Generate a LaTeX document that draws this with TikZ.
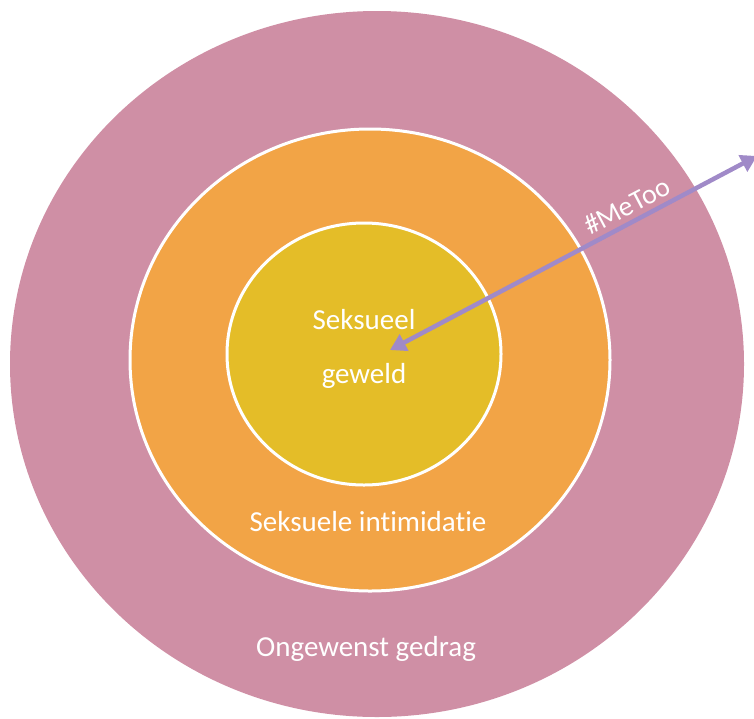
\documentclass[tikz,border=0pt]{standalone}
\usepackage{fontspec}
\setmainfont[Ligatures={NoCommon}]{Carlito}
\usetikzlibrary{arrows.meta}
\definecolor{pinkc}{HTML}{CF8FA5}
\definecolor{orangec}{HTML}{F2A446}
\definecolor{yellowc}{HTML}{E4BD28}
\definecolor{purplec}{HTML}{A08AC8}
\tikzset{
  lbl/.style={text=white, font=\fontsize{29}{34}\selectfont, inner sep=0pt},
  ring/.style={draw=white, line width=3pt},
  metoo/.style={draw=purplec, line width=4.5pt, {Triangle[length=16pt,width=18pt]}-{Triangle[length=16pt,width=18pt]}}
}
\begin{document}
\begin{tikzpicture}[x=1pt,y=-1pt]
\useasboundingbox (0,0) rectangle (754,718);
\fill[pinkc] (377,364) ellipse [x radius=367, y radius=353];
\filldraw[ring, fill=orangec] (370,360) ellipse [x radius=240, y radius=231];
\filldraw[ring, fill=yellowc] (364,354) ellipse [x radius=137, y radius=131];
\coordinate (tipin) at (390,350);
\coordinate (tipout) at (757,156);
\draw[metoo] (tipin) -- (tipout);
\node[lbl, font=\fontsize{28}{32}\selectfont, rotate=27.8] (mt) at (627,206) {\#MeToo};
\node[lbl] (s1) at (364,320) {Seksueel};
\node[lbl] (s2) at (364,376) {geweld};
\node[lbl] (si) at (368,522) {Seksuele intimidatie};
\node[lbl] (og) at (366,649) {Ongewenst gedrag};
\end{tikzpicture}
\end{document}
